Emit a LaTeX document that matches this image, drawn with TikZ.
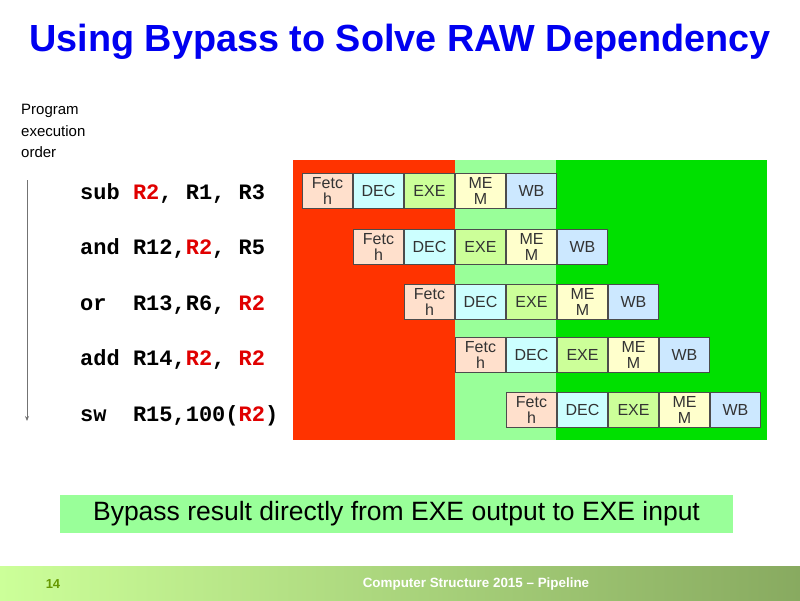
\documentclass[tikz,border=0pt]{standalone}
\usepackage{fontspec}
\setmainfont{Liberation Sans}
\newfontfamily\codefont{Liberation Mono}
\usetikzlibrary{arrows.meta,positioning}
\definecolor{titleblue}{HTML}{0000F0}
\definecolor{rawred}{HTML}{FF3300}
\definecolor{softgreen}{HTML}{99FF99}
\definecolor{brightgreen}{HTML}{00E000}
\definecolor{fetchcol}{HTML}{FFE0CC}
\definecolor{deccol}{HTML}{CCFFFF}
\definecolor{execol}{HTML}{CCFF99}
\definecolor{memcol}{HTML}{FFFFCC}
\definecolor{wbcol}{HTML}{CCE8FF}
\definecolor{regred}{HTML}{E00000}
\definecolor{footleft}{HTML}{CCFF99}
\definecolor{footright}{HTML}{88AA60}
\definecolor{pagenum}{HTML}{669900}
\newcommand{\rr}[1]{\textcolor{regred}{#1}}

\begin{document}
\begin{tikzpicture}[x=1pt, y=-1pt,
    stage/.style={draw=black!70, line width=1pt, minimum width=49.6pt, minimum height=35.6pt, inner sep=0pt, align=center, font=\fontsize{16}{16.5}\selectfont, text=black!80},
    codeline/.style={anchor=base west, inner sep=0pt, font=\fontsize{22}{22}\codefont\bfseries},
]
\useasboundingbox (0,0) rectangle (800,600);

% title
\node[font=\fontsize{37.8}{38}\selectfont\bfseries, text=titleblue] (title) at (400,42) {Using Bypass to Solve RAW Dependency};

% program order
\node[anchor=north west, align=left, inner sep=0pt, font=\fontsize{15}{21.5}\selectfont] (order) at (21,104) {Program\\execution\\order};
\coordinate (ordtop) at (27,180);
\coordinate (ordbot) at (27,421);
\draw[black!55, line width=1pt, -{Stealth[length=5pt,width=4pt]}] (ordtop) -- (ordbot);

\node[codeline] (ins1) at (80,199) {sub \rr{R2}, R1, R3};
\node[codeline] (ins2) at (80,254) {and R12,\rr{R2}, R5};
\node[codeline] (ins3) at (80,310) {or\ \ R13,R6, \rr{R2}};
\node[codeline] (ins4) at (80,365) {add R14,\rr{R2}, \rr{R2}};
\node[codeline] (ins5) at (80,421) {sw\ \ R15,100(\rr{R2})};

% time regions
\fill[rawred] (293,160) rectangle (455,440);
\fill[softgreen] (455,160) rectangle (556,440);
\fill[brightgreen] (556,160) rectangle (767,440);

% pipeline stages
\node[stage, fill=fetchcol] (fetch1) at (327.5,191) {Fetc\\h};
\node[stage, fill=deccol] (dec1) at (378.5,191) {DEC};
\node[stage, fill=execol] (exe1) at (429.5,191) {EXE};
\node[stage, fill=memcol] (mem1) at (480.5,191) {ME\\M};
\node[stage, fill=wbcol] (wb1) at (531.5,191) {WB};

\node[stage, fill=fetchcol] (fetch2) at (378.5,247) {Fetc\\h};
\node[stage, fill=deccol] (dec2) at (429.5,247) {DEC};
\node[stage, fill=execol] (exe2) at (480.5,247) {EXE};
\node[stage, fill=memcol] (mem2) at (531.5,247) {ME\\M};
\node[stage, fill=wbcol] (wb2) at (582.5,247) {WB};

\node[stage, fill=fetchcol] (fetch3) at (429.5,302) {Fetc\\h};
\node[stage, fill=deccol] (dec3) at (480.5,302) {DEC};
\node[stage, fill=execol] (exe3) at (531.5,302) {EXE};
\node[stage, fill=memcol] (mem3) at (582.5,302) {ME\\M};
\node[stage, fill=wbcol] (wb3) at (633.5,302) {WB};

\node[stage, fill=fetchcol] (fetch4) at (480.5,355) {Fetc\\h};
\node[stage, fill=deccol] (dec4) at (531.5,355) {DEC};
\node[stage, fill=execol] (exe4) at (582.5,355) {EXE};
\node[stage, fill=memcol] (mem4) at (633.5,355) {ME\\M};
\node[stage, fill=wbcol] (wb4) at (684.5,355) {WB};

\node[stage, fill=fetchcol] (fetch5) at (531.5,410) {Fetc\\h};
\node[stage, fill=deccol] (dec5) at (582.5,410) {DEC};
\node[stage, fill=execol] (exe5) at (633.5,410) {EXE};
\node[stage, fill=memcol] (mem5) at (684.5,410) {ME\\M};
\node[stage, fill=wbcol] (wb5) at (735.5,410) {WB};

% note
\node[fill=softgreen, minimum width=673pt, minimum height=38pt, inner sep=0pt, font=\fontsize{26.5}{26.5}\selectfont] (bypass) at (396.5,514) {Bypass result directly from EXE output to EXE input};

% footer
\shade[left color=footleft, right color=footright] (0,566) rectangle (800,600);
\node[font=\fontsize{13}{13}\selectfont\bfseries, text=pagenum] (pnum) at (53,584) {14};
\node[font=\fontsize{13.4}{13.4}\selectfont\bfseries, text=white] (foot) at (476,584) {Computer Structure 2015 -- Pipeline};
\end{tikzpicture}
\end{document}
